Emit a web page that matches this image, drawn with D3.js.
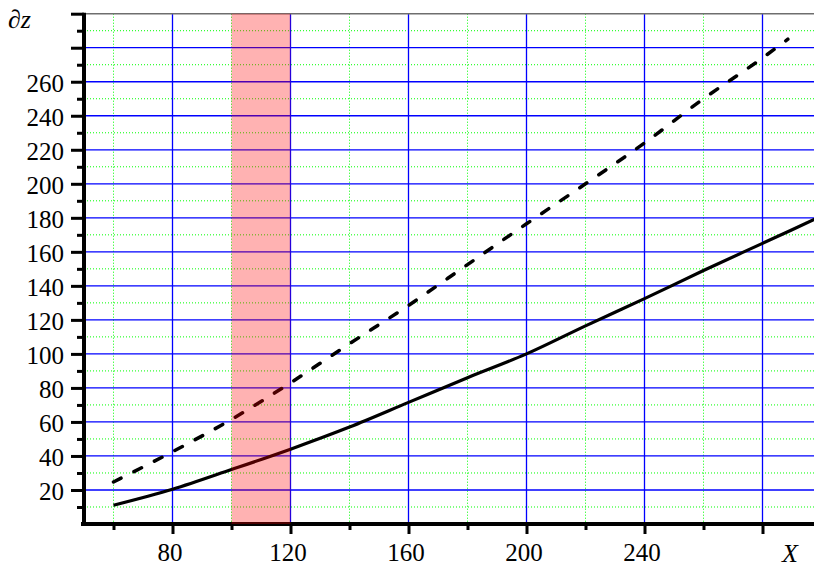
<!DOCTYPE html>
<html>
<head>
<meta charset="utf-8">
<script src="https://cdn.jsdelivr.net/npm/d3@7/dist/d3.min.js"></script>
<style>
  html, body { margin: 0; padding: 0; background: #fff; }
  svg { display: block; }
  text { font-family: "Liberation Serif", "Times New Roman", serif; fill: #000; }
</style>
</head>
<body>
<svg id="chart" width="814" height="568"></svg>
<script>
// ---- data ----
const solidX = [60, 80, 100, 120, 140, 160, 180, 200, 220, 240, 260, 280, 300];
const solidY = [11, 20.4, 32, 44, 57, 71.5, 86, 100, 116.5, 132.5, 149, 165, 181];
const dashedX = [60, 80, 100, 120, 140, 160, 180, 200, 220, 240, 260, 280, 288.6];
const dashedY = [24.7, 42.5, 61.5, 83, 106, 128.5, 152.5, 176.5, 200, 224, 250, 274, 285];
const xTickLabels = [80, 120, 160, 200, 240];
const yTickLabels = [20, 40, 60, 80, 100, 120, 140, 160, 180, 200, 220, 240, 260];
const xMajor = [80, 120, 160, 200, 240, 280];
const xMinor = [60, 100, 140, 180, 220, 260, 300];
const yMajor = [20, 40, 60, 80, 100, 120, 140, 160, 180, 200, 220, 240, 260, 280];
const yMinor = [10, 30, 50, 70, 90, 110, 130, 150, 170, 190, 210, 230, 250, 270, 290];
const band = [100, 120];
const xDomain = [50, 300];
const yDomain = [0, 300];
const xLabel = "X";
const yLabel = "∂z";

(function () {
const FONT = "'Liberation Serif', 'Times New Roman', serif";
// ---- layout ----
const svg = d3.select("#chart");
const x = d3.scaleLinear().domain(xDomain).range([84, 821.5]);
const y = d3.scaleLinear().domain(yDomain).range([524, 13.7]);
const pL = x(xDomain[0]), pR = 814, pT = y(yDomain[1]), pB = y(yDomain[0]);

const grid = svg.append("g");
// minor dotted green grid
grid.selectAll(".hminor").data(yMinor).enter().append("line")
  .attr("x1", pL).attr("x2", pR).attr("y1", d => y(d)).attr("y2", d => y(d))
  .attr("stroke", "#00ff00").attr("stroke-width", 1).attr("stroke-dasharray", "1,2");
grid.selectAll(".vminor").data(xMinor).enter().append("line")
  .attr("x1", d => x(d)).attr("x2", d => x(d)).attr("y1", pT).attr("y2", pB)
  .attr("stroke", "#00ff00").attr("stroke-width", 1).attr("stroke-dasharray", "1,2");
// major blue grid
grid.selectAll(".hmajor").data(yMajor).enter().append("line")
  .attr("x1", pL).attr("x2", pR).attr("y1", d => y(d)).attr("y2", d => y(d))
  .attr("stroke", "#0000ff").attr("stroke-width", 1.3);
grid.selectAll(".vmajor").data(xMajor).enter().append("line")
  .attr("x1", d => x(d)).attr("x2", d => x(d)).attr("y1", pT).attr("y2", pB)
  .attr("stroke", "#0000ff").attr("stroke-width", 1.3);
// top border
grid.append("line").attr("x1", pL).attr("x2", pR).attr("y1", pT).attr("y2", pT)
  .attr("stroke", "#6e6e6e").attr("stroke-width", 1.6);

// ---- curves ----
const solidData = solidX.map((v, i) => [v, solidY[i]]);
const dashedData = dashedX.map((v, i) => [v, dashedY[i]]);
const line = d3.line().x(d => x(d[0])).y(d => y(d[1])).curve(d3.curveMonotoneX);

svg.append("path").datum(dashedData).attr("d", line)
  .attr("fill", "none").attr("stroke", "#000").attr("stroke-width", 3.5)
  .attr("stroke-linecap", "round").attr("stroke-dasharray", "8.5,14.5");
svg.append("path").datum(solidData).attr("d", line)
  .attr("fill", "none").attr("stroke", "#000").attr("stroke-width", 3.2)
  .attr("stroke-linejoin", "round");

// ---- axes ----
const xAxisMajor = d3.axisBottom(x).tickValues(xMajor).tickSize(10).tickFormat(d => xTickLabels.includes(d) ? d : "");
const xAxisMinor = d3.axisBottom(x).tickValues(xMinor.filter(d => x(d) < pR)).tickSize(6).tickFormat("");
const yAxisMajor = d3.axisLeft(y).tickValues(yMajor.concat([300])).tickSize(13).tickFormat(d => yTickLabels.includes(d) ? d : "");
const yAxisMinor = d3.axisLeft(y).tickValues(yMinor).tickSize(7).tickFormat("");

function styleAxis(g, fontSize) {
  g.attr("font-family", null).attr("font-size", null);
  g.select(".domain").remove();
  g.selectAll(".tick line").attr("stroke", "#000").attr("stroke-width", 3);
  g.selectAll(".tick text").style("font-size", fontSize + "px")
    .style("font-family", FONT).attr("fill", "#000");
}

const gx = svg.append("g").attr("transform", `translate(0,${pB})`).call(xAxisMajor);
styleAxis(gx, 25);
gx.selectAll(".tick text").attr("text-anchor", "middle").attr("x", -3).attr("y", 37).attr("dy", "0");
const gx2 = svg.append("g").attr("transform", `translate(0,${pB})`).call(xAxisMinor);
styleAxis(gx2, 25);

const gy = svg.append("g").attr("transform", `translate(${pL},0)`).call(yAxisMajor);
styleAxis(gy, 25);
gy.selectAll(".tick text").attr("text-anchor", "end").attr("x", -20).attr("dy", "0.4em");
const gy2 = svg.append("g").attr("transform", `translate(${pL},0)`).call(yAxisMinor);
styleAxis(gy2, 25);

// axis lines
svg.append("line").attr("x1", pL - 3).attr("x2", pR).attr("y1", pB).attr("y2", pB)
  .attr("stroke", "#000").attr("stroke-width", 4);
svg.append("line").attr("x1", pL).attr("x2", pL).attr("y1", pT - 1).attr("y2", pB + 2)
  .attr("stroke", "#000").attr("stroke-width", 4);

// ---- highlighted band (on top, translucent) ----
svg.append("rect")
  .attr("x", x(band[0])).attr("width", x(band[1]) - x(band[0]))
  .attr("y", pT).attr("height", pB - pT)
  .attr("fill", "#ff0000").attr("fill-opacity", 0.3);

// ---- axis titles ----
svg.append("text").attr("x", 790).attr("y", 562).attr("text-anchor", "middle")
  .style("font-family", FONT).style("font-size", "26px").attr("font-style", "italic").text(xLabel);
svg.append("text").attr("x", 8).attr("y", 28)
  .style("font-family", FONT).style("font-size", "26px").attr("font-style", "italic").text(yLabel);
})();
</script>
</body>
</html>
